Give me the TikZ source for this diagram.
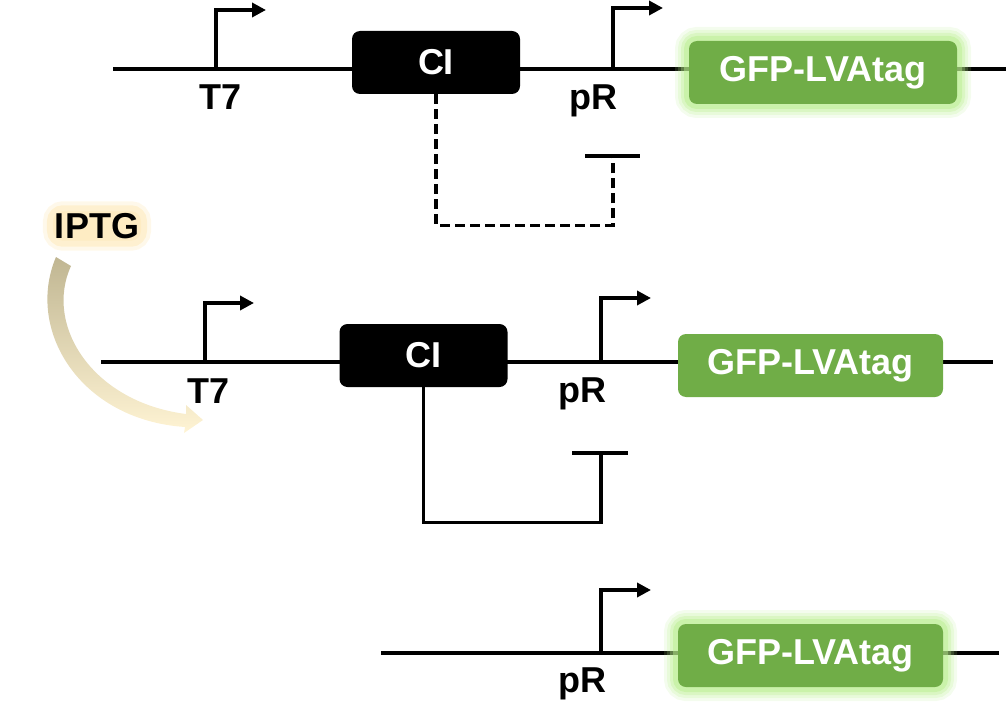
\documentclass[tikz,border=0pt]{standalone}
\usepackage{fontspec}
\setmainfont{Liberation Sans}
\usetikzlibrary{arrows.meta,positioning}
\definecolor{genegreen}{RGB}{112,173,71}
\definecolor{glowgreen}{RGB}{184,238,140}
\definecolor{glowyellow}{RGB}{253,228,170}
\definecolor{iptgtop}{RGB}{192,182,146}
\definecolor{iptgbot}{RGB}{255,244,212}

\begin{document}
\begin{tikzpicture}[x=0.5pt,y=-0.5pt,
  dna/.style={line width=2pt},
  prom/.style={line width=2pt,-{Triangle[length=7pt,width=7pt]}},
  repbox/.style={fill=black,rounded corners=4pt,minimum width=84pt,minimum height=31.5pt,text=white,font=\bfseries\fontsize{18}{20}\selectfont},
  gene/.style={fill=genegreen,rounded corners=4pt,minimum width=132.5pt,minimum height=31.5pt,text=white,font=\bfseries\fontsize{18}{20}\selectfont},
  glow/.style={preaction={draw=glowgreen,line width=14pt,opacity=0.15},
               preaction={draw=glowgreen,line width=11pt,opacity=0.2},
               preaction={draw=glowgreen,line width=8pt,opacity=0.3},
               preaction={draw=glowgreen,line width=5pt,opacity=0.45}},
  lbl/.style={font=\bfseries\fontsize{18}{20}\selectfont,inner sep=0pt,anchor=base},
  inhib/.style={line width=1.6pt},
  bar/.style={line width=2pt}
]
\useasboundingbox (0,0) rectangle (1006,717);

% IPTG and its arrow
\node[font=\bfseries\fontsize{18}{20}\selectfont,fill=glowyellow!70,rounded corners=5pt,inner xsep=1pt,inner ysep=1pt,
      preaction={draw=glowyellow,line width=10pt,opacity=0.25},
      preaction={draw=glowyellow,line width=6pt,opacity=0.4}] (iptg) at (97,226) {IPTG};
\shade[top color=iptgtop,bottom color=iptgbot]
  (56,257) .. controls (25,330) and (80,420) .. (185,427) -- (184,433) -- (203,420)
  -- (186,405) -- (186,414) .. controls (92,402) and (44,325) .. (71,266) -- cycle;

% row 1: T7 -> CI, pR -> GFP (on)
\coordinate (startA) at (113,69);
\coordinate (endA) at (1006,69);
\coordinate (t7A) at (216,69);
\coordinate (prA) at (613,69);
\coordinate (barA) at (613,156);
\draw[dna] (startA) -- (endA);
\node[repbox] (ciA) at (436,62.5) {CI};
\node[gene,glow,minimum width=134pt] (gfpA) at (823,72.5) {GFP-LVAtag};
\draw[prom] (t7A) -- ++(0,-59) -- ++(50,0);
\draw[prom] (prA) -- ++(0,-61) -- ++(50,0);
\node[lbl] (t7lblA) at (221,110) {T7};
\node[lbl] (prlblA) at (593,110) {pR};
\draw[inhib,dash pattern=on 5pt off 2.5pt] (ciA.south) -- ++(0,131) -| (barA);
\draw[bar] ([xshift=-14pt]barA) -- ([xshift=13.5pt]barA);

% row 2: with IPTG, CI represses pR
\coordinate (startB) at (101,362);
\coordinate (endB) at (993,362);
\coordinate (t7B) at (205,362);
\coordinate (prB) at (601,362);
\coordinate (barB) at (601,453);
\draw[dna] (startB) -- (endB);
\node[repbox] (ciB) at (423.5,355.5) {CI};
\node[gene] (gfpB) at (810.5,365.5) {GFP-LVAtag};
\draw[prom] (t7B) -- ++(0,-59) -- ++(49,0);
\draw[prom] (prB) -- ++(0,-64) -- ++(50,0);
\node[lbl] (t7lblB) at (209,403) {T7};
\node[lbl] (prlblB) at (582,402) {pR};
\draw[inhib] (ciB.south) -- ++(0,135) -| (barB);
\draw[bar] ([xshift=-14.5pt]barB) -- ([xshift=13.5pt]barB);

% row 3: pR alone
\coordinate (startC) at (381,653);
\coordinate (endC) at (999,653);
\coordinate (prC) at (601,653);
\draw[dna] (startC) -- (endC);
\node[gene,glow] (gfpC) at (810.5,655.5) {GFP-LVAtag};
\draw[prom] (prC) -- ++(0,-63) -- ++(50,0);
\node[lbl] (prlblC) at (582,692) {pR};
\end{tikzpicture}
\end{document}
